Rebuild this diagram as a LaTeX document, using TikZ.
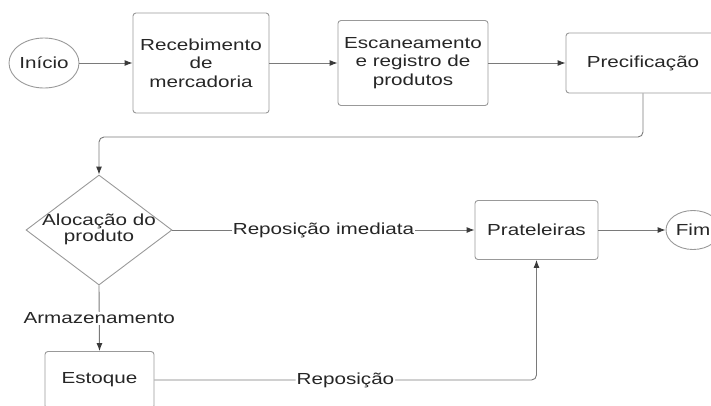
\documentclass[tikz,border=0pt]{standalone}
\usepackage{fontspec}
\setmainfont{Liberation Sans}[FakeStretch=1.29]
\usetikzlibrary{shapes.geometric,arrows.meta}

\definecolor{linegray}{HTML}{7A7A7A}
\definecolor{tipgray}{HTML}{3A3A3A}
\definecolor{boxgray}{HTML}{999999}
\definecolor{textgray}{HTML}{262626}

\tikzset{
  base/.style={draw=boxgray,line width=0.9pt,text=textgray,inner sep=0pt,align=center,
    font=\fontsize{16}{18.5}\selectfont},
  process/.style={base,rectangle,rounded corners=3pt},
  terminal/.style={base,ellipse},
  decision/.style={base,diamond},
  conn/.style={draw=linegray,line width=0.9pt,-{Latex[length=8pt,width=6pt,color=tipgray]}},
  edgelabel/.style={fill=white,text=textgray,inner sep=1pt,font=\fontsize{16}{18.5}\selectfont}
}

\begin{document}
\begin{tikzpicture}[x=1pt,y=-1pt]

\useasboundingbox (0,0) rectangle (711,405) ;
\clip (0,0) rectangle (711,405) ;

\node [terminal,minimum width=70pt,minimum height=50pt] (inicio) at (44,63) {Início} ;
\node [process,minimum width=136pt,minimum height=100pt] (receb) at (201,63) {Recebimento\\de\\mercadoria} ;
\node [process,minimum width=150pt,minimum height=85pt] (escan) at (413,63) {Escaneamento\\e registro de\\produtos} ;
\node [process,minimum width=154pt,minimum height=60pt] (prec) at (643,63) {Precificação} ;
\node [decision,minimum width=146pt,minimum height=110pt] (aloc) at (99,230)
  {\makebox[0pt]{\begin{tabular}{@{}c@{}}Alocação do\\[-3pt]produto\end{tabular}}} ;
\node [process,minimum width=123pt,minimum height=59pt] (prat) at (536.5,230) {Prateleiras} ;
\node [terminal,minimum width=54pt,minimum height=39pt] (fim) at (693,230) {Fim} ;
\node [process,minimum width=109pt,minimum height=57pt] (estoque) at (99.5,380) {Estoque} ;
\coordinate (bend) at (99,137) ;

\draw [conn] (inicio) -- (receb) ;
\draw [conn] (receb) -- (escan) ;
\draw [conn] (escan) -- (prec) ;
\draw [conn,rounded corners=5pt] (prec.south) |- (bend) -- (aloc.north) ;
\draw [conn] (aloc.east) -- node [edgelabel] {Reposição imediata} (prat.west) ;
\draw [conn] (prat) -- (fim) ;
\draw [conn] (aloc.south) -- node [edgelabel] {Armazenamento} (estoque.north) ;
\draw [conn,rounded corners=5pt] (estoque.east) -| node [edgelabel,pos=0.25] {Reposição} (prat.south) ;

\end{tikzpicture}
\end{document}
